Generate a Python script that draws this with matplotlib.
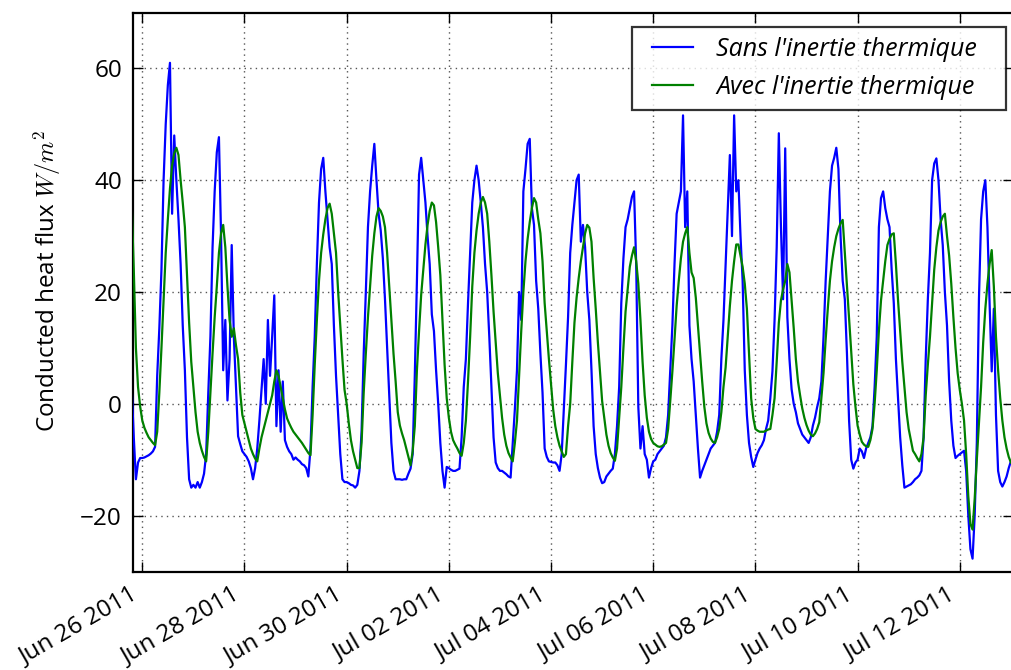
import matplotlib
matplotlib.use("Agg")
import matplotlib.pyplot as plt
import matplotlib.dates as mdates
from matplotlib.ticker import FixedLocator
from matplotlib.lines import Line2D
from matplotlib.legend_handler import HandlerLine2D
from datetime import datetime, timedelta

# ---------------- data (hourly samples) ----------------
start_time = datetime(2011, 6, 25, 19)   # first sample, then one per hour

sans_inertie = [
    3, -6, -13.5, -10.5, -9.7,                                                      # Jun 25 19h-23h
    -9.7, -9.6, -9.4, -9.2, -8.9, -8.5, -7.7, 5, 13.5, 24, 40, 50,
    57, 61, 34, 48, 40, 33, 25, 14, 6, -6, -13.5, -15,                               # Jun 26
    -14.5, -15, -14, -15, -14, -12.5, -9, 2, 12, 28, 38, 45,
    47.7, 30, 6, 15, 0.6, 8, 28.4, 12, 3, -5.8, -7.2, -8.5,                          # Jun 27
    -9, -9.5, -10.3, -11.5, -13.5, -11.5, -8, -3, 2.6, 8, 0, 15,
    5, 12, 19.4, -4, 6, -5, 4, -6.5, -7.7, -8.5, -9, -10,                            # Jun 28
    -9.6, -10, -10.3, -10.8, -11, -11.5, -13, -8, 3, 12, 25, 36,
    42, 44, 38, 33, 28, 25, 14, 5, -2, -9, -13.5, -14,                               # Jun 29
    -14, -14.2, -14.5, -14.6, -15, -14.5, -12, -5, 9, 20, 31.6, 38,
    42.6, 46.5, 40, 34, 31, 26, 18.7, 10, 1, -7, -12, -13.5,                         # Jun 30
    -13.5, -13.5, -13.6, -13.5, -13.5, -12.5, -11.6, -9, 5, 22, 41, 44,
    40, 36, 30, 25, 16, 13, 6, 0, -7, -12, -15, -11.3,                               # Jul 01
    -11.5, -11.8, -12, -12, -11.8, -11.6, -6, 3, 8, 18, 27, 36,
    40, 42.6, 40, 36, 31.6, 25, 20, 12, 3, -6, -10.5, -11.5,                         # Jul 02
    -12, -12, -12.3, -12.6, -13, -13.2, -7, -1, 6, 20, 15, 38,
    42, 46.5, 47.4, 35, 32, 22, 17, 9, 2, -8, -9.5, -10.3,                           # Jul 03
    -10.4, -10.5, -10.5, -11, -12, -9, -1, 7, 15.5, 27, 32, 36,
    40, 41, 29, 32, 28, 20, 15, 6, -4, -9, -11.5, -13.2,                             # Jul 04
    -14.2, -14, -13, -12.5, -12, -11.6, -9, -4, 3, 18, 26, 31.6,
    33, 35, 37, 38, 25, -0.6, -8, -4, -9, -10, -13.2, -11.5,                         # Jul 05
    -10.3, -10, -9, -8.5, -8, -7.5, -6, -2, 5.8, 14, 25, 34,
    36, 38, 51.6, 31.6, 38, 14, 8, 4, -2, -8, -13.2, -12,                            # Jul 06
    -11, -10, -9, -8, -7.5, -7, -5, -2, 8, 15, 25, 35,
    44.5, 30, 51.6, 38, 40, 30, 22, 6, -2, -7, -9.5, -11.3,                          # Jul 07
    -10, -8.8, -8, -7.4, -6.5, -4.5, -3, 1, 5.8, 15, 28, 48.4,
    31.6, 18.7, 45.7, 15.5, 8, 2.6, 0, -1.5, -3.5, -4.5, -5.5, -6,                   # Jul 08
    -6.5, -7, -6, -3.9, -2.5, -0.6, 1, 4, 12, 22, 30, 38,
    42.6, 44, 45.8, 42, 30, 22, 18.7, 9, -3, -10, -11.6, -10.5,                      # Jul 09
    -10, -8, -8.5, -9.7, -8, -7, -6, -4, 3, 12, 31.6, 36.8,
    38, 35, 33, 31.6, 24, 18, 8, 1, -6, -11, -15, -14.8,                             # Jul 10
    -14.6, -14.4, -14, -13.5, -13.2, -12.8, -12, -6, 8, 18.7, 27, 40,
    43, 43.9, 40, 33, 28.4, 20, 14, 4, -3, -7.5, -9.7, -9.3,                         # Jul 11
    -9, -8.7, -8.4, -12, -20, -26, -27.7, -20, -7, 18.7, 33, 38,
    40, 31.6, 18, 5.8, 17, -2, -12, -14, -14.8, -14, -13, -11.5,                     # Jul 12
    -10.3,                                                                           # Jul 13 00h
]

avec_inertie = [
    36, 24, 10, 3, -0.5,                                                            # Jun 25 19h-23h
    -3, -4.3, -5.2, -6, -6.5, -7, -7.4, -5, 2, 10, 18.5, 27,
    33, 38.5, 42.6, 44.8, 45.8, 44.5, 40, 36, 31.6, 23, 14.5, 7.5,                   # Jun 26
    3, -1.5, -5, -7, -8.4, -9.5, -10.3, -5, 2, 9, 15.5, 21,
    27, 30.5, 32, 28, 21, 15, 12, 13.5, 10.5, 8, 2, -2,                              # Jun 27
    -3.5, -5, -6.5, -8, -9, -9.8, -10.3, -8, -6, -4.5, -3, -1.5,
    0, 1.5, 4, 6, 5, 3, 1, -1, -2.6, -3.5, -4.3, -5,                                 # Jun 28
    -5.5, -6, -6.5, -7, -7.6, -8.2, -8.8, -9.2, -2, 7, 15, 22,
    27, 30.3, 33, 35, 35.8, 34, 30.5, 27, 20, 14, 8, 2.5,                            # Jun 29
    0, -3.5, -6.5, -8.5, -10, -11.5, -11.5, -7, 2, 9, 15.5, 21,
    26.5, 30.5, 33.5, 35, 34.5, 33.5, 31.6, 27, 21, 15, 9, 4,                        # Jun 30
    -1.5, -3.9, -5.3, -6.5, -8, -9.5, -11, -8.5, -4, 6, 13, 19.5,
    24, 28.5, 32, 34.5, 36, 35.5, 32.5, 28, 23, 15, 7, 1,                            # Jul 01
    -2.5, -5, -6.5, -7.3, -8, -8.8, -9.3, -7, -3, 4, 12, 21,
    27, 31, 34, 36, 37, 36, 34, 29, 23, 16.5, 11, 5.5,                               # Jul 02
    1.6, -2.5, -5.5, -7.5, -8.8, -9.6, -10.3, -7, -3, 5, 13, 20,
    25.5, 29.5, 32.5, 35, 36.8, 36, 33, 30.5, 25.5, 18, 13, 8,                       # Jul 03
    3.5, -1, -4, -6, -7.5, -8.5, -9.5, -9, -4, 0, 7.5, 14.5,
    19, 22.5, 25.5, 28, 30.5, 32, 31.5, 29, 22.5, 17, 11, 5.8,                       # Jul 04
    0.5, -2.5, -5.5, -7.5, -8.8, -9.6, -10.2, -8, -2.5, 3, 10, 16.5,
    20.5, 24.5, 26.5, 28, 25.5, 21.5, 15, 7.5, 1.5, -2.5, -5, -6.3,                  # Jul 05
    -7, -7.3, -7.6, -7.7, -7.6, -7.3, -7, -4.5, 0.5, 5.8, 11.5, 17.5,
    22, 26, 29, 30.5, 31.6, 27, 23.5, 22.5, 19, 14, 9, 4,                            # Jul 06
    -0.5, -3.5, -5.2, -6.2, -6.8, -7, -6, -4.5, -1.5, 3, 6.5, 12,
    17.5, 22, 25.5, 28.5, 28.5, 26.5, 24.5, 21.5, 17, 9, 1, -2.5,                    # Jul 07
    -4.5, -4.8, -5, -5, -5, -4.8, -4.6, -4.5, -2, 1, 7.5, 14.5,
    18.5, 20.5, 22, 25, 23.5, 18.5, 13.5, 8, 4, 1.5, -0.8, -2.5,                     # Jul 08
    -3.8, -4.8, -5.5, -5.8, -5.3, -4.5, -3.3, 1, 5.5, 11.5, 17, 22,
    25.5, 28, 30, 31.3, 32.3, 32.9, 27, 21, 15, 9.5, 3.5, -0.5,                      # Jul 09
    -3.9, -5.5, -6.8, -7.3, -7.6, -7.7, -6.5, -4.5, 0, 6, 13, 18.5,
    22, 25.5, 28.4, 29.5, 30.3, 30.5, 25, 18.5, 13, 7.5, 3, -1.5,                    # Jul 10
    -4.5, -6.5, -8.4, -9, -9.7, -10.3, -9, -6, 1.5, 7, 12, 18,
    24, 28, 31, 32.5, 33.5, 34, 30, 26.5, 21.5, 15.5, 10, 5.5,                       # Jul 11
    2.5, 0, -3, -9, -16.5, -21.5, -22.5, -17, -10, -3.5, 3, 11,
    17, 21.5, 25, 27.5, 21, 12, 6, 1, -3, -6, -8, -9.5,                              # Jul 12
    -10.5,                                                                           # Jul 13 00h
]

series_labels = ["Sans l'inertie thermique", "Avec l'inertie thermique"]
y_label = r"Conducted heat flux $W/m^2$"
y_ticks = [-20, 0, 20, 40, 60]
x_tick_dates = [datetime(2011, 6, 26) + timedelta(days=2 * i) for i in range(9)]
x_range = (datetime(2011, 6, 25, 19, 38), datetime(2011, 7, 13, 1))
y_range = (-30, 70)

# ---------------- drawing ----------------
plt.rcParams["mathtext.fontset"] = "cm"
plt.rcParams["font.family"] = ["Open Sans", "DejaVu Sans"]

W, H = 1011, 670
fig = plt.figure(figsize=(W / 100, H / 100), dpi=100)
fig.patch.set_facecolor("white")
left, right, top, bottom = 133, 1013, 12.5, 571.5
ax = fig.add_axes([left / W, 1 - bottom / H, (right - left) / W, (bottom - top) / H])

times = [start_time + timedelta(hours=i) for i in range(len(sans_inertie))]
times_g = [start_time + timedelta(hours=i) for i in range(len(avec_inertie))]
ax.plot(times, sans_inertie, color="#0000ff", lw=1.6, label=series_labels[0], zorder=3)
ax.plot(times_g, avec_inertie, color="#008000", lw=1.6, label=series_labels[1], zorder=4)

ax.set_xlim(*x_range)
ax.set_ylim(*y_range)
ax.yaxis.set_major_locator(FixedLocator(y_ticks))
ax.xaxis.set_major_locator(FixedLocator(mdates.date2num(x_tick_dates)))
ax.xaxis.set_major_formatter(mdates.DateFormatter("%b %d %Y"))

ax.grid(True, color="#555555", linestyle=(0, (1, 3)), linewidth=1.0)
ax.tick_params(direction="in", top=True, right=True, length=7, width=1.0,
               labelsize=17.5, pad=8)
for s in ax.spines.values():
    s.set_linewidth(1.6)

for lbl in ax.get_xticklabels():
    lbl.set_rotation(30)
    lbl.set_ha("right")

ax.set_ylabel(y_label, fontsize=17.5, labelpad=12)
ax.yaxis.label.set_y(0.52)

# legend box: x 632..1006 px, y 27..110 px
leg_box = (632 / W, 1 - 110 / H, 374 / W, 83 / H)
leg = ax.legend(loc="upper left", bbox_to_anchor=leg_box, mode="expand",
                bbox_transform=fig.transFigure,
                prop={"style": "italic", "size": 18},
                frameon=True, fancybox=False, borderpad=0.4, handlelength=2.05,
                handletextpad=0.92, labelspacing=0.5, borderaxespad=0,
                handler_map={Line2D: HandlerLine2D(xpad=0.4)})
leg.get_frame().set_edgecolor("black")
leg.get_frame().set_linewidth(1.6)
for l in leg.get_lines():
    l.set_linewidth(1.6)

fig.savefig("out.png", dpi=100, facecolor="white")
